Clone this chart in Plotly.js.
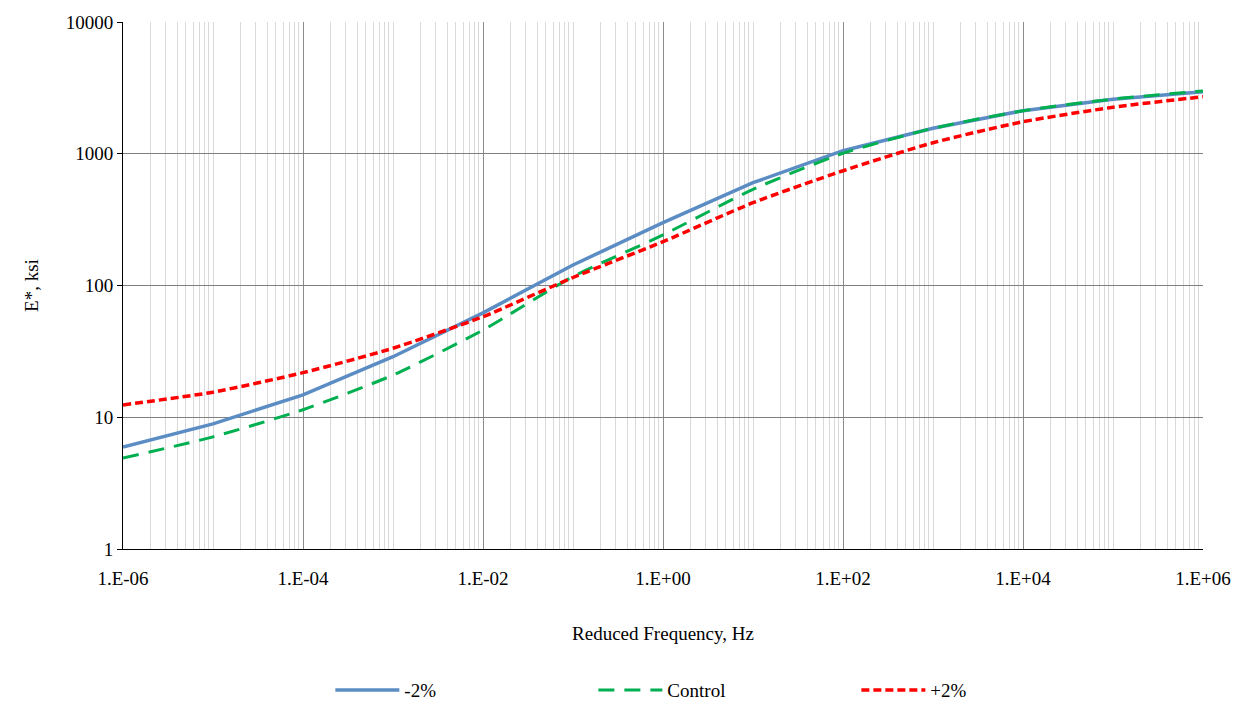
<!DOCTYPE html>
<html>
<head>
<meta charset="utf-8">
<script src="https://cdn.plot.ly/plotly-3.0.1.min.js"></script>
<style>html,body{margin:0;padding:0;background:#fff;}#chart{width:1252px;height:705px;}</style>
</head>
<body>
<div id="chart"></div>
<script>
var frequency = [1e-6, 1e-5, 1e-4, 1e-3, 1e-2, 1e-1, 1e0, 1e1, 1e2, 1e3, 1e4, 1e5, 1e6];
var minus2 = [5.95, 8.9, 14.8, 28.8, 62, 143, 300, 603, 1055, 1560, 2123, 2590, 2960];
var control = [4.9, 7.1, 11.4, 20.9, 45.9, 117, 242, 537, 1008, 1560, 2120, 2600, 3000];
var plus2 = [12.4, 15.5, 21.8, 33.4, 58, 115, 215, 425, 743, 1213, 1750, 2253, 2710];
var seriesNames = ['-2%', 'Control', '+2%'];
var xTickVals = [1e-6, 1e-4, 1e-2, 1e0, 1e2, 1e4, 1e6];
var xTickText = ['1.E-06', '1.E-04', '1.E-02', '1.E+00', '1.E+02', '1.E+04', '1.E+06'];
var yTickVals = [1, 10, 100, 1000, 10000];
var yTickText = ['1', '10', '100', '1000', '10000'];

var font = '"Times New Roman", "Liberation Serif", "DejaVu Serif", serif';
var traces = [
  {x: frequency, y: minus2, name: seriesNames[0], mode: 'lines', type: 'scatter',
   line: {color: '#5B8DC4', width: 3.5}},
  {x: frequency, y: control, name: seriesNames[1], mode: 'lines', type: 'scatter',
   line: {color: '#00B050', width: 3, dash: '16px,10px', shape: 'spline', smoothing: 0.6}},
  {x: frequency, y: plus2, name: seriesNames[2], mode: 'lines', type: 'scatter',
   line: {color: '#FF0000', width: 3.5, dash: '8px,4px', shape: 'spline', smoothing: 0.6}}
];
var layout = {
  width: 1252, height: 705,
  margin: {l: 123, r: 49, t: 22, b: 156},
  paper_bgcolor: '#fff', plot_bgcolor: '#fff',
  font: {family: font, size: 19, color: '#000'},
  showlegend: true,
  legend: {orientation: 'h', x: 0.192, xanchor: 'left', yref: 'container', y: 0.021, yanchor: 'middle',
           entrywidth: 184, font: {family: font, size: 19, color: '#000'}, itemwidth: 64},
  xaxis: {type: 'log', range: [-6, 6], tickvals: xTickVals, ticktext: xTickText,
          showgrid: true, gridcolor: '#8c8c8c', gridwidth: 1,
          minor: {dtick: 'D1', showgrid: true, gridcolor: '#d9d9d9', gridwidth: 1, ticks: ''},
          showline: true, linecolor: '#000', linewidth: 1, ticks: 'outside', ticklen: 12, tickcolor: 'rgba(0,0,0,0)',
          zeroline: false, tickfont: {family: font, size: 19},
          title: {text: 'Reduced Frequency, Hz', font: {family: font, size: 19}, standoff: 38}},
  yaxis: {type: 'log', range: [0, 4], tickvals: yTickVals, ticktext: yTickText,
          showgrid: true, gridcolor: '#7f7f7f', gridwidth: 1,
          showline: true, linecolor: '#000', linewidth: 1, ticks: 'outside', ticklen: 5, tickcolor: '#000',
          zeroline: false, tickfont: {family: font, size: 19},
          title: {text: 'E*, ksi', font: {family: font, size: 19}, standoff: 22}}
};
Plotly.newPlot('chart', traces, layout, {displayModeBar: false, staticPlot: true});
</script>
</body>
</html>
